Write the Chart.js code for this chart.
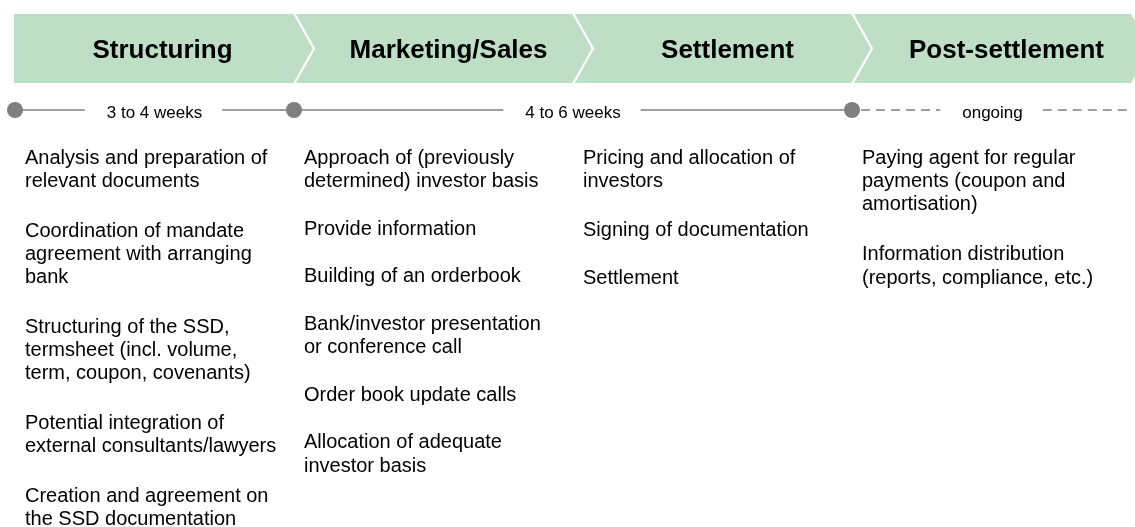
<!DOCTYPE html>
<html>
<head>
<meta charset="utf-8">
<script src="https://cdn.jsdelivr.net/npm/chart.js@4"></script>
<style>
  body { margin: 0; background: #fff; }
  canvas { display: block; }
</style>
</head>
<body>
<canvas id="process" width="1135" height="527"></canvas>
<script>
// phases of the issuance process
const phases = ["Structuring", "Marketing/Sales", "Settlement", "Post-settlement"];

// timeline: dots on phase boundaries, each span carries a duration label
const milestones = [0, 1, 3];
const spanFrom = [0, 1, 3];
const spanTo = [1, 3, 4];
const spanLabels = ["3 to 4 weeks", "4 to 6 weeks", "ongoing"];
const spanDashed = [false, false, true];

// tasks per phase (line breaks as on the slide)
const structuringTasks = [
  "Analysis and preparation of\nrelevant documents",
  "Coordination of mandate\nagreement with arranging\nbank",
  "Structuring of the SSD,\ntermsheet (incl. volume,\nterm, coupon, covenants)",
  "Potential integration of\nexternal consultants/lawyers",
  "Creation and agreement on\nthe SSD documentation"
];
const marketingTasks = [
  "Approach of (previously\ndetermined) investor basis",
  "Provide information",
  "Building of an orderbook",
  "Bank/investor presentation\nor conference call",
  "Order book update calls",
  "Allocation of adequate\ninvestor basis"
];
const settlementTasks = [
  "Pricing and allocation of\ninvestors",
  "Signing of documentation",
  "Settlement"
];
const postSettlementTasks = [
  "Paying agent for regular\npayments (coupon and\namortisation)",
  "Information distribution\n(reports, compliance, etc.)"
];
const tasks = [structuringTasks, marketingTasks, settlementTasks, postSettlementTasks];

// layout
const HEAD_TOP = 14, HEAD_BOTTOM = 83, TIP = 20;
const LINE_Y = 110;
const TEXT_MID = 156.5, LINE_H = 23.3;
const PARA_STEP = [49.5, 47.6, 48.5, 50];
const GREEN = "#bedfc6", GREY = "#7f7f7f";
const FONT = '"Liberation Sans", Arial, sans-serif';

const processPlugin = {
  id: "process",
  beforeDatasetsDraw(chart) {
    const ctx = chart.ctx;
    const sx = chart.scales.x, sy = chart.scales.y;
    const px = v => sx.getPixelForValue(v);
    const top = sy.getPixelForValue(HEAD_TOP), bottom = sy.getPixelForValue(HEAD_BOTTOM);
    const mid = (top + bottom) / 2;
    ctx.save();

    // header chevrons
    ctx.fillStyle = GREEN;
    phases.forEach((p, k) => {
      const l = px(k), r = px(k + 1);
      ctx.beginPath();
      ctx.moveTo(k === 0 ? l - 1 : l, top);
      ctx.lineTo(r, top);
      ctx.lineTo(r + TIP, mid);
      ctx.lineTo(r, bottom);
      ctx.lineTo(k === 0 ? l - 1 : l, bottom);
      if (k > 0) ctx.lineTo(l + TIP, mid);
      ctx.closePath();
      ctx.fill();
    });
    ctx.strokeStyle = "#fff";
    ctx.lineWidth = 2.2;
    for (let k = 1; k < phases.length; k++) {
      const b = px(k);
      ctx.beginPath();
      ctx.moveTo(b, top - 1);
      ctx.lineTo(b + TIP, mid);
      ctx.lineTo(b, bottom + 1);
      ctx.stroke();
    }
    ctx.fillStyle = "#000";
    ctx.font = "bold 26px " + FONT;
    ctx.textAlign = "center";
    ctx.textBaseline = "alphabetic";
    phases.forEach((p, k) => {
      const cx = (px(k) + px(k + 1) + TIP) / 2 + (k === 0 ? -2 : 5);
      ctx.fillText(p, cx, mid + 9.3);
    });

    // timeline spans
    const ly = sy.getPixelForValue(LINE_Y);
    ctx.font = "17px " + FONT;
    ctx.strokeStyle = GREY;
    ctx.lineWidth = 1.4;
    spanLabels.forEach((lab, i) => {
      let x0 = px(spanFrom[i]);
      const x1 = px(spanTo[i]);
      const cx = (x0 + x1) / 2 + (spanDashed[i] ? 1 : 0);
      const w = ctx.measureText(lab).width;
      if (spanDashed[i]) { ctx.setLineDash([9, 6]); x0 += 9; } else ctx.setLineDash([]);
      ctx.beginPath();
      ctx.moveTo(x0, ly);
      ctx.lineTo(cx - w / 2 - 22, ly);
      ctx.stroke();
      ctx.beginPath();
      ctx.moveTo(cx + w / 2 + 20, ly);
      ctx.lineTo(x1, ly);
      ctx.stroke();
      ctx.fillText(lab, cx, ly + 8);
    });
    ctx.setLineDash([]);

    // task lists
    ctx.font = "20px " + FONT;
    ctx.textAlign = "left";
    tasks.forEach((list, k) => {
      const x = px(k) + 10;
      let y = TEXT_MID;
      list.forEach((item, j) => {
        const lines = item.split("\n");
        lines.forEach((ln, n) => {
          ctx.fillText(ln, x, sy.getPixelForValue(y) + 7.2);
          if (n < lines.length - 1) y += LINE_H;
        });
        y += PARA_STEP[k];
      });
    });
    ctx.restore();
  }
};

new Chart(document.getElementById("process"), {
  type: "scatter",
  data: {
    datasets: [
      {
        label: "milestones",
        data: milestones.map(m => ({ x: m, y: LINE_Y })),
        pointRadius: 8,
        pointHoverRadius: 8,
        backgroundColor: GREY,
        borderWidth: 0
      }
    ]
  },
  options: {
    responsive: false,
    animation: false,
    layout: { padding: 0, autoPadding: false },
    plugins: { legend: { display: false }, tooltip: { enabled: false } },
    scales: {
      x: { type: "linear", display: false, min: -15 / 279, max: 1120 / 279 },
      y: { type: "linear", display: false, reverse: true, min: 0, max: 527 }
    }
  },
  plugins: [processPlugin]
});
</script>
</body>
</html>
